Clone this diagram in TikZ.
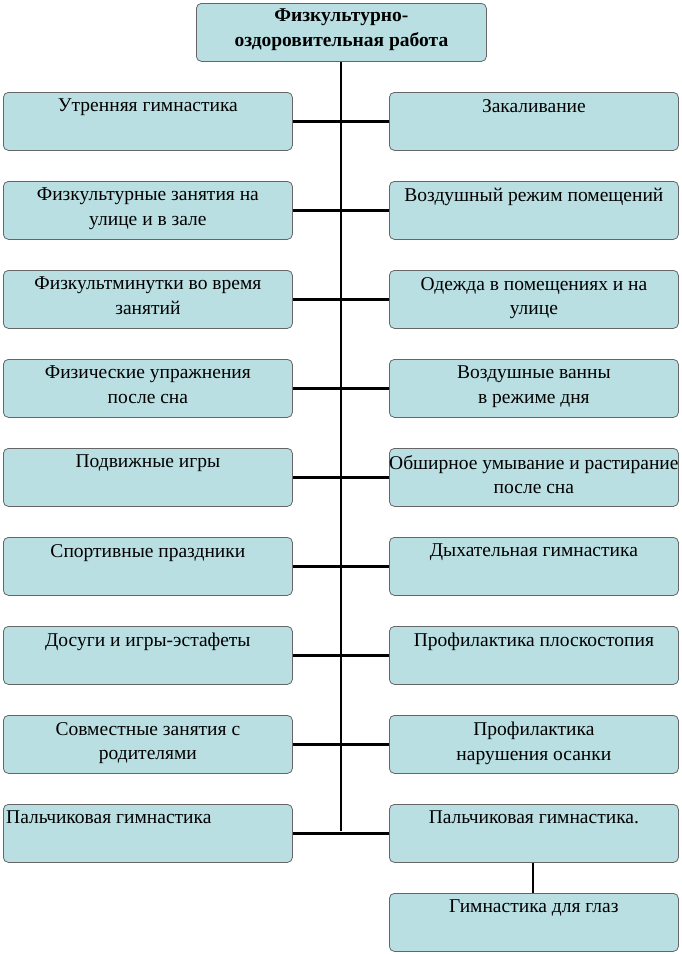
\documentclass[tikz,border=0pt]{standalone}
\usepackage{fontspec}
\setmainfont{Liberation Serif}
\definecolor{boxfill}{HTML}{B9DFE3}
\begin{document}
\begin{tikzpicture}[x=1pt,y=-1pt,
  box/.style = {draw=black!60, fill=boxfill, rounded corners=5pt, line width=0.8pt,
                minimum width=289pt, minimum height=58pt, anchor=north west, inner sep=0pt},
  txt/.style = {anchor=north, align=center, font=\fontsize{19.5}{24.5}\selectfont, inner sep=0pt},
  link/.style = {line width=2.2pt}]
\useasboundingbox (0,0) rectangle (681,954);

\node[box, minimum width=290pt] (T) at (196,3) {};
\node[txt, font=\bfseries\fontsize{19.5}{24.5}\selectfont] (Tt) at ([yshift=-6pt]T.north) {Физкультурно-\\оздоровительная работа};

\coordinate (top) at (341,62);
\coordinate (bot) at (341,831);
\draw[link] (T.south -| top) -- (bot);

\foreach \i/\lt/\rt in {
  1/{Утренняя  гимнастика}/{Закаливание},
  2/{Физкультурные занятия на\\улице и в зале}/{Воздушный режим помещений},
  3/{Физкультминутки во  время\\занятий}/{Одежда в  помещениях и  на\\улице},
  4/{Физические упражнения\\после сна}/{Воздушные  ванны\\в  режиме дня},
  5/{Подвижные игры}/{Обширное умывание и растирание\\после сна},
  6/{Спортивные праздники}/{Дыхательная  гимнастика},
  7/{Досуги и игры-эстафеты}/{Профилактика плоскостопия},
  8/{Совместные  занятия с\\родителями}/{Профилактика\\нарушения  осанки}}
{
  \node[box] (L\i) at (3,{92+89*(\i-1)}) {};
  \node[box] (R\i) at (389,{92+89*(\i-1)}) {};
  \node[txt] (Lt\i) at ([yshift=-7pt]L\i.north) {\lt};
  \node[txt] (Rt\i) at ([yshift=-7pt]R\i.north) {\rt};
  \draw[link] (L\i.east) -- (R\i.west);
}

\node[box] (L9) at (3,804) {};
\node[box] (R9) at (389,804) {};
\node[txt, anchor=north west] (Lt9) at ([xshift=3pt,yshift=-7pt]L9.north west) {Пальчиковая гимнастика};
\node[txt] (Rt9) at ([yshift=-7pt]R9.north) {Пальчиковая гимнастика.};
\draw[link] (L9.east) -- (R9.west);

\node[box] (R10) at (389,893) {};
\node[txt] (Rt10) at ([yshift=-7pt]R10.north) {Гимнастика для  глаз};
\draw[link] (R9.south -| 533,0) -- (R10.north -| 533,0);
\end{tikzpicture}
\end{document}
